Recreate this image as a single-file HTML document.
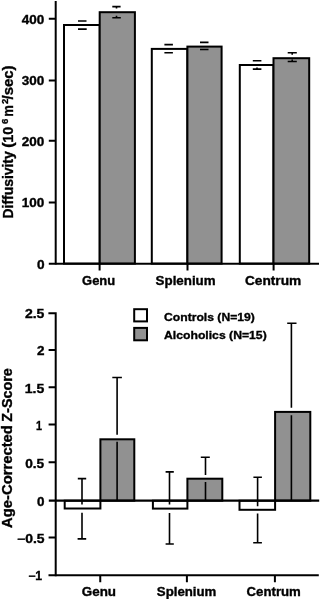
<!DOCTYPE html>
<html><head><meta charset="utf-8"><style>
html,body{margin:0;padding:0;background:#fff;width:320px;height:599px;overflow:hidden}
svg{display:block;filter:grayscale(1)}
text{font-family:"Liberation Sans",sans-serif;font-weight:bold;fill:#000;stroke:#000;stroke-width:0.35px}
</style></head><body>
<svg width="320" height="599" viewBox="0 0 320 599">
<g stroke="#000" fill="none" stroke-linejoin="miter">
<!-- ===== TOP CHART ===== -->
<g stroke-width="2">
<rect x="64" y="25" width="35.7" height="238.6" fill="#fff"/>
<rect x="99.7" y="12.2" width="35.2" height="251.4" fill="#919191"/>
<rect x="151.8" y="48.9" width="35.6" height="214.7" fill="#fff"/>
<rect x="187.4" y="46.6" width="34.2" height="217" fill="#919191"/>
<rect x="239.8" y="65" width="33.7" height="198.6" fill="#fff"/>
<rect x="273.5" y="58.2" width="35.7" height="205.4" fill="#919191"/>
</g>
<g stroke-width="1.6">
<path d="M78 21H86.5M78 29.1H86.7"/>
<path d="M112.3 6.6H120.6M116.5 6.6V8.6M112.3 17.8H120.8M116.5 17.8V15.8"/>
<path d="M164.4 44.6H172.9M164.4 52.8H172.9"/>
<path d="M200 42.4H208.5M200 49.5H208.5"/>
<path d="M252.8 60.8H261.4M252.8 69.1H261.4M257 69.1V67.6"/>
<path d="M287.7 52.7H296.8M292.2 52.7V54.8M287.7 61.5H296.8M292.2 61.5V59.5"/>
</g>
<g stroke-width="2">
<path d="M55.7 1V264.6"/>
<path d="M48.8 263.65H319"/>
<path d="M48.8 18.8H55.7M48.8 80.4H55.7M48.8 140.8H55.7M48.8 202.5H55.7"/>
<path d="M99.6 263.6V270.6M187.5 263.6V270.6M273.6 263.6V270.6"/>
</g>

<!-- ===== BOTTOM CHART ===== -->
<g stroke-width="2">
<rect x="64.7" y="500.7" width="35.7" height="7.8" fill="#fff"/>
<rect x="100.4" y="439.3" width="33.9" height="61.4" fill="#919191"/>
<rect x="152.9" y="500.7" width="34.5" height="7.9" fill="#fff"/>
<rect x="187.4" y="478.7" width="34.9" height="22" fill="#919191"/>
<rect x="239.5" y="500.7" width="35.6" height="9.1" fill="#fff"/>
<rect x="275.1" y="411.9" width="35.2" height="88.8" fill="#919191"/>
</g>
<g stroke-width="1.6">
<path d="M77.8 478.6H86.2M82 478.6V504.4M82 512.8V538.9M77.6 538.9H86.2"/>
<path d="M112.3 377.5H121.9M117.1 377.5V434.8M117.1 441.8V500"/>
<path d="M165.6 471.9H173.8M169.5 471.9V504.5M169.5 513V544M165.6 544H173.8"/>
<path d="M200.8 457.2H209.8M205.5 457.2V475M205.5 482V500"/>
<path d="M253.4 477.2H261.9M257.6 477.2V506.2M257.6 513.4V542.8M253.2 542.8H261.9"/>
<path d="M287.2 323.3H296.5M291.4 323.3V407.8M291.4 415.2V500"/>
</g>
<g stroke-width="2">
<path d="M48.4 313.2H55.7V576.2"/>
<path d="M48.6 350H55.7M48.6 387.2H55.7M48.6 424.6H55.7M48.6 462.2H55.7M48.6 537.6H55.7"/>
<path d="M48.8 500.7H319.2" stroke-width="2.3"/>
<path d="M48.5 575.3H318.8"/>
<path d="M100.25 575.3V582.3M186.9 575.3V582.3M274.9 575.3V582.3"/>
</g>
<g stroke-width="2">
<rect x="134.2" y="309.2" width="12.8" height="12.2" fill="#fff"/>
<rect x="134.2" y="327.9" width="12.8" height="12.4" fill="#919191"/>
</g>
</g>

<!-- ===== TEXT ===== -->
<g font-size="12" text-anchor="end">
<text x="44.2" y="23.7" textLength="22.5" lengthAdjust="spacingAndGlyphs">400</text>
<text x="44.2" y="84.7" textLength="22.5" lengthAdjust="spacingAndGlyphs">300</text>
<text x="44.2" y="145.5" textLength="22.5" lengthAdjust="spacingAndGlyphs">200</text>
<text x="44.2" y="207.2" textLength="22.5" lengthAdjust="spacingAndGlyphs">100</text>
<text x="44.6" y="268.7" textLength="7.6" lengthAdjust="spacingAndGlyphs">0</text>

<text x="44.4" y="318" textLength="19.5" lengthAdjust="spacingAndGlyphs">2.5</text>
<text x="44.4" y="354.9" textLength="7.5" lengthAdjust="spacingAndGlyphs">2</text>
<text x="44.2" y="392.5" textLength="19.5" lengthAdjust="spacingAndGlyphs">1.5</text>
<text x="42" y="429.5" textLength="6" lengthAdjust="spacingAndGlyphs">1</text>
<text x="44.2" y="467.5" textLength="19" lengthAdjust="spacingAndGlyphs">0.5</text>
<text x="44.4" y="505.6" textLength="7.5" lengthAdjust="spacingAndGlyphs">0</text>
<text x="44.6" y="542.8" textLength="27.5" lengthAdjust="spacingAndGlyphs">−0.5</text>
<text x="42.2" y="580" textLength="14" lengthAdjust="spacingAndGlyphs">−1</text>
</g>
<g font-size="12" text-anchor="middle">
<text x="98.6" y="285" textLength="33" lengthAdjust="spacingAndGlyphs">Genu</text>
<text x="185.6" y="284.5" textLength="60" lengthAdjust="spacingAndGlyphs">Splenium</text>
<text x="273.1" y="284.5" textLength="56.3" lengthAdjust="spacingAndGlyphs">Centrum</text>
<text x="98.9" y="596.2" textLength="34.2" lengthAdjust="spacingAndGlyphs">Genu</text>
<text x="186.6" y="595.7" textLength="59.5" lengthAdjust="spacingAndGlyphs">Splenium</text>
<text x="273.7" y="595.9" textLength="54.2" lengthAdjust="spacingAndGlyphs">Centrum</text>
</g>
<g font-size="11.5">
<text x="164" y="321.2" textLength="90.9" lengthAdjust="spacingAndGlyphs">Controls (N=19)</text>
<text x="164" y="338.6" textLength="102.7" lengthAdjust="spacingAndGlyphs">Alcoholics (N=15)</text>
</g>
<g font-size="14.5" style="stroke-width:0.1px">
<g transform="translate(12.5,217.5) rotate(-90)">
<text x="-1" y="0" textLength="67.2" lengthAdjust="spacingAndGlyphs">Diffusivity</text>
<text x="69.7" y="0" textLength="5.3" lengthAdjust="spacingAndGlyphs">(</text>
<text x="74.7" y="0" textLength="16.1" lengthAdjust="spacingAndGlyphs">10</text>
<text x="93.6" y="-4.4" font-size="9.5" textLength="5.3" lengthAdjust="spacingAndGlyphs">6</text>
<text x="100.8" y="0" textLength="11.6" lengthAdjust="spacingAndGlyphs">m</text>
<text x="113.6" y="-4.4" font-size="9.5" textLength="5.3" lengthAdjust="spacingAndGlyphs">2</text>
<text x="118" y="0" textLength="34.1" lengthAdjust="spacingAndGlyphs">/sec)</text>
</g>
<g transform="translate(11.6,527.6) rotate(-90)">
<text x="-0.4" y="0" textLength="102.9" lengthAdjust="spacingAndGlyphs">Age-Corrected</text>
<text x="105.9" y="0" textLength="53.6" lengthAdjust="spacingAndGlyphs">Z-Score</text>
</g>
</g>
</svg>
</body></html>
